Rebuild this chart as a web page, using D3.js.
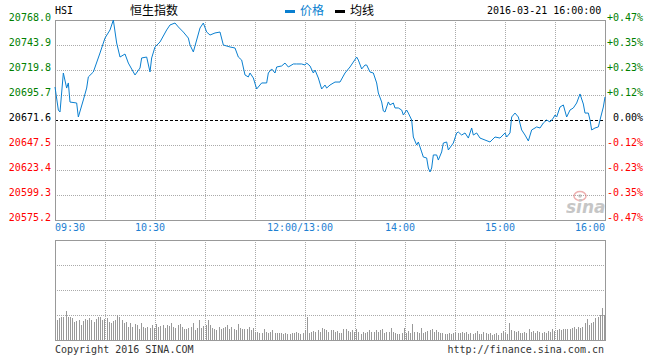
<!DOCTYPE html>
<html><head><meta charset="utf-8">
<script src="https://cdn.jsdelivr.net/npm/d3@7"></script>
<style>
html,body{margin:0;padding:0;background:#fff;}
svg{display:block;}
text{font-family:"DejaVu Sans Mono","Liberation Mono",monospace;font-size:10px;}
.cjk{font-family:"Noto Sans CJK SC",sans-serif;font-size:12px;}
</style></head><body>
<div id="chart"></div>
<script>
// ---------------- DATA ----------------
const symbol = "HSI";
const title = "恒生指数";
const stamp = "2016-03-21 16:00:00";
const prevClose = 20671.6;
const priceTicks = [20768.0, 20743.9, 20719.8, 20695.7, 20671.6, 20647.5, 20623.4, 20599.3, 20575.2];
const pctTicks = ["+0.47%", "+0.35%", "+0.23%", "+0.12%", " 0.00%", "-0.12%", "-0.23%", "-0.35%", "-0.47%"];
const timeTickLabels = ["09:30", "10:30", "12:00/13:00", "14:00", "15:00", "16:00"];
const timeTickTimes = ["09:30", "10:30", "12:00", "14:00", "15:00", "16:00"];
const gridTimes = ["10:00","10:30","11:00","11:30","12:00","13:30","14:00","14:30","15:00","15:30"];

const times = ["09:30","09:32","09:33","09:35","09:37","09:38","09:39","09:43","09:44","09:47","09:49","09:50","09:53","09:57","09:59",
"10:00","10:03","10:05","10:07","10:09","10:12","10:14","10:18","10:21","10:22","10:25","10:27","10:28","10:30","10:33","10:37","10:39",
"10:42","10:44","10:47","10:50","10:51","10:53","10:55","10:57","10:59","11:01","11:03","11:06","11:09","11:11","11:15","11:18","11:20",
"11:22","11:24","11:26","11:27","11:29","11:31","11:34","11:37","11:38","11:40","11:42","11:43","11:46","11:48","11:50","11:53","11:55",
"11:58","12:00","13:01","13:03","13:05","13:06","13:08","13:10","13:12","13:13","13:15","13:18","13:21","13:24","13:27","13:29","13:31",
"13:32","13:34","13:36","13:37","13:39","13:41","13:43","13:44","13:46","13:47","13:48","13:50","13:51","13:53","13:54","13:56","13:58",
"13:59","14:01","14:02","14:04","14:05","14:07","14:08","14:10","14:11","14:13","14:14","14:15","14:16","14:17","14:19","14:20","14:22",
"14:23","14:25","14:26","14:29","14:31","14:32","14:34","14:36","14:38","14:40","14:41","14:43","14:45","14:48","14:51","14:54","14:57",
"15:00","15:01","15:03","15:04","15:06","15:08","15:10","15:12","15:14","15:16","15:18","15:19","15:21","15:23","15:25","15:27","15:29",
"15:30","15:31","15:33","15:35","15:37","15:39","15:41","15:43","15:45","15:47","15:48","15:50","15:51","15:52","15:54","15:56","15:57",
"15:59","16:00"];
const prices = [20703.4,20681.2,20679.3,20716.9,20702.4,20707.3,20688.9,20688.0,20674.5,20690.9,20702.4,20713.1,20717.9,20736.2,20745.8,
20750.6,20758.4,20768.0,20745.8,20732.3,20735.2,20726.5,20715.0,20721.7,20731.4,20732.3,20717.9,20731.4,20742.0,20746.8,20758.4,20763.2,
20765.1,20761.3,20756.4,20750.6,20743.9,20737.2,20748.7,20760.3,20765.1,20756.4,20753.5,20755.5,20756.4,20743.9,20742.0,20741.0,20732.3,
20729.4,20715.0,20713.1,20716.9,20712.1,20701.5,20707.3,20707.3,20716.9,20720.8,20716.9,20722.7,20723.7,20726.5,20722.7,20725.6,20725.6,
20725.6,20724.6,20726.5,20723.7,20716.9,20719.8,20712.1,20701.5,20705.3,20702.4,20705.3,20708.2,20708.2,20716.9,20722.7,20727.5,20732.3,
20729.4,20720.8,20724.6,20724.6,20717.9,20716.9,20707.3,20697.6,20689.0,20680.3,20679.3,20689.0,20686.1,20688.0,20683.2,20683.2,20681.2,
20676.4,20681.2,20678.3,20671.6,20655.2,20647.5,20650.4,20640.8,20635.9,20635.0,20625.3,20621.5,20625.3,20637.9,20637.9,20633.0,20640.8,
20649.4,20650.4,20642.7,20649.4,20659.1,20660.0,20657.1,20659.1,20654.2,20663.9,20657.1,20659.1,20654.2,20652.3,20650.4,20655.2,20654.2,
20659.1,20655.2,20659.1,20674.5,20678.3,20674.5,20662.0,20657.1,20651.4,20662.0,20663.9,20664.9,20663.9,20668.7,20671.6,20669.7,20673.5,
20676.4,20674.5,20684.1,20686.1,20674.5,20681.2,20683.2,20688.0,20696.7,20687.0,20678.3,20678.3,20671.6,20662.0,20663.9,20664.9,20671.6,
20684.1,20693.8];

const volumes = [20.0,21.7,22.7,22.7,29.0,22.7,22.7,21.7,18.3,19.3,20.0,15.0,19.3,20.7,20.0,21.7,20.0,18.3,20.7,22.7,22.7,20.0,20.7,21.7,
18.3,17.3,19.0,20.0,25.0,22.7,20.0,16.7,18.3,13.3,16.7,13.3,15.7,15.0,11.0,16.7,13.3,11.7,13.3,11.7,15.0,11.7,16.0,13.3,14.0,15.0,12.3,
15.0,14.3,16.7,13.3,12.3,15.0,15.7,13.3,10.7,11.0,12.3,13.3,16.7,10.0,12.3,20.0,12.3,14.0,15.0,20.0,15.0,12.3,11.0,10.0,13.3,10.7,11.7,
12.7,15.0,10.7,12.7,10.7,10.0,15.7,11.7,11.0,10.7,11.0,12.7,10.0,12.3,8.3,8.3,6.7,7.3,10.7,8.3,6.7,8.3,10.0,7.3,7.3,6.7,6.7,6.0,6.7,6.0,
6.0,7.3,6.7,8.3,6.7,6.0,6.7,10.0,22.7,6.7,8.3,9.0,8.3,10.0,8.3,11.7,10.7,10.0,8.3,10.0,
10.0,8.3,9.0,6.7,6.7,11.0,10.7,9.0,8.3,10.0,8.3,11.0,8.3,6.0,8.3,6.7,8.3,10.0,8.3,8.3,10.0,8.3,10.0,10.7,7.3,8.3,8.3,12.3,8.3,6.7,6.0,
6.0,6.7,11.7,6.7,9.0,7.3,16.0,8.3,8.3,7.3,12.3,6.7,8.3,9.0,10.0,11.0,8.3,10.0,8.3,6.7,6.7,6.0,6.0,7.3,6.0,6.7,8.3,6.7,7.3,8.3,6.7,8.3,
6.0,7.3,6.0,6.7,9.0,6.0,6.0,8.3,6.7,6.0,6.7,5.0,6.0,6.7,5.0,6.7,9.0,6.7,6.0,17.3,10.0,9.0,8.3,9.0,7.3,6.7,8.3,6.7,10.7,8.3,9.0,6.7,9.0,
8.3,7.3,8.3,6.7,9.0,8.3,10.7,9.0,10.0,10.7,10.0,11.0,11.0,10.7,11.0,11.7,13.3,10.7,12.7,12.3,12.7,16.7,20.7,15.0,16.7,18.3,21.7,22.7,
25.0,32.3,25.0];

// ---------------- CHART ----------------
const W = 660, H = 360;
const L = 55, R = 605, T = 20, B = 220, VT = 240, VB = 340;
const svg = d3.select("#chart").append("svg").attr("width", W).attr("height", H);

function toMinute(t) {
  const [h, m] = t.split(":").map(Number);
  const mins = h * 60 + m;
  if (mins <= 12 * 60) return mins - (9 * 60 + 30);
  return mins - 13 * 60 + 150;
}
const x = d3.scaleLinear().domain([0, 330]).range([L, R]);
const y = d3.scaleLinear().domain([priceTicks[priceTicks.length - 1], priceTicks[0]]).range([B, T]);
const vy = d3.scaleLinear().domain([0, 100]).range([VB, VT]);
const vx = d3.scaleLinear().domain([0, volumes.length - 1]).range([57, 604]);

const grid = svg.append("g").attr("shape-rendering", "crispEdges");
priceTicks.slice(1, -1).forEach(v => {
  if (v === prevClose) return;
  grid.append("line").attr("x1", L).attr("x2", R).attr("y1", Math.round(y(v)) + 0.5).attr("y2", Math.round(y(v)) + 0.5)
    .attr("stroke", "#aaa").attr("stroke-dasharray", "1,1");
});
gridTimes.forEach(t => {
  const xx = Math.round(x(toMinute(t))) + 0.5;
  grid.append("line").attr("x1", xx).attr("x2", xx).attr("y1", T).attr("y2", B).attr("stroke", "#aaa").attr("stroke-dasharray", "1,1");
  grid.append("line").attr("x1", xx).attr("x2", xx).attr("y1", VT).attr("y2", VB).attr("stroke", "#aaa").attr("stroke-dasharray", "1,1");
});
[25, 50, 75].forEach(v => {
  grid.append("line").attr("x1", L).attr("x2", R).attr("y1", Math.round(vy(v)) + 0.5).attr("y2", Math.round(vy(v)) + 0.5)
    .attr("stroke", "#aaa").attr("stroke-dasharray", "1,1");
});

// watermark
const wm = svg.append("g").attr("opacity", 0.55);
wm.append("ellipse").attr("cx", 580).attr("cy", 196).attr("rx", 6).attr("ry", 4.5).attr("fill", "none").attr("stroke", "#e07070").attr("stroke-width", 1.5);
wm.append("circle").attr("cx", 580).attr("cy", 196).attr("r", 1.8).attr("fill", "#999");
wm.append("text").attr("x", 566).attr("y", 213).attr("fill", "#999")
  .style("font-family", "'DejaVu Sans',sans-serif").style("font-size", "17px").style("font-style", "italic").style("font-weight", "bold").text("sina");

svg.append("line").attr("x1", L).attr("x2", R).attr("y1", Math.round(y(prevClose)) + 0.5).attr("y2", Math.round(y(prevClose)) + 0.5)
  .attr("stroke", "#000").attr("stroke-dasharray", "3,2").attr("shape-rendering", "crispEdges");

svg.append("rect").attr("x", L + 0.5).attr("y", T + 0.5).attr("width", R - L).attr("height", B - T)
  .attr("fill", "none").attr("stroke", "#999").attr("stroke-width", 1.5).attr("shape-rendering", "crispEdges");
svg.append("rect").attr("x", L + 0.5).attr("y", VT + 0.5).attr("width", R - L).attr("height", VB - VT)
  .attr("fill", "none").attr("stroke", "#999").attr("stroke-width", 1.5).attr("shape-rendering", "crispEdges");

svg.append("g").attr("shape-rendering", "crispEdges").selectAll("rect").data(volumes).join("rect")
  .attr("x", (d, i) => Math.round(vx(i))).attr("width", 1)
  .attr("y", d => vy(d)).attr("height", d => VB - vy(d)).attr("fill", "#999");

const pts = times.map((t, i) => [toMinute(t), prices[i]]);
svg.append("path").datum(pts)
  .attr("d", d3.line().x(d => x(d[0])).y(d => y(d[1])))
  .attr("fill", "none").attr("stroke", "#0a7fd0").attr("stroke-width", 1);

priceTicks.forEach(v => {
  svg.append("text").attr("x", 51).attr("y", y(v) + 1).attr("text-anchor", "end")
    .attr("fill", v > prevClose ? "#008000" : (v < prevClose ? "#ff0000" : "#000")).text(v.toFixed(1));
});
pctTicks.forEach((p, i) => {
  svg.append("text").attr("x", 607).attr("y", y(priceTicks[i]) + 1).attr("text-anchor", "start")
    .style("white-space", "pre")
    .attr("fill", p.trim().startsWith("+") ? "#008000" : (p.trim().startsWith("-") ? "#ff0000" : "#000")).text(p);
});
timeTickLabels.forEach((lab, i) => {
  const px = x(toMinute(timeTickTimes[i]));
  let anchor = "middle", xx = px - 5;
  if (i === 0) { anchor = "start"; xx = L; }
  if (i === timeTickLabels.length - 1) { anchor = "end"; xx = R; }
  svg.append("text").attr("x", xx).attr("y", 231).attr("text-anchor", anchor).attr("fill", "#1e80d2").text(lab);
});

svg.append("text").attr("x", 55).attr("y", 14).attr("fill", "#000").text(symbol);
svg.append("text").attr("class", "cjk").attr("x", 130).attr("y", 15).attr("fill", "#000").text(title);
svg.append("rect").attr("x", 285).attr("y", 10).attr("width", 10).attr("height", 3).attr("fill", "#0a7fd0");
svg.append("text").attr("class", "cjk").attr("x", 300).attr("y", 15).attr("fill", "#0a7fd0").text("价格");
svg.append("rect").attr("x", 335).attr("y", 10).attr("width", 10).attr("height", 3).attr("fill", "#000");
svg.append("text").attr("class", "cjk").attr("x", 350).attr("y", 15).attr("fill", "#000").text("均线");
svg.append("text").attr("x", 487).attr("y", 14).attr("fill", "#000").text(stamp);

svg.append("text").attr("x", 55).attr("y", 353).attr("fill", "#333").text("Copyright 2016 SINA.COM");
svg.append("text").attr("x", 604).attr("y", 353).attr("text-anchor", "end").attr("fill", "#333").text("http://finance.sina.com.cn");
</script>
</body></html>
